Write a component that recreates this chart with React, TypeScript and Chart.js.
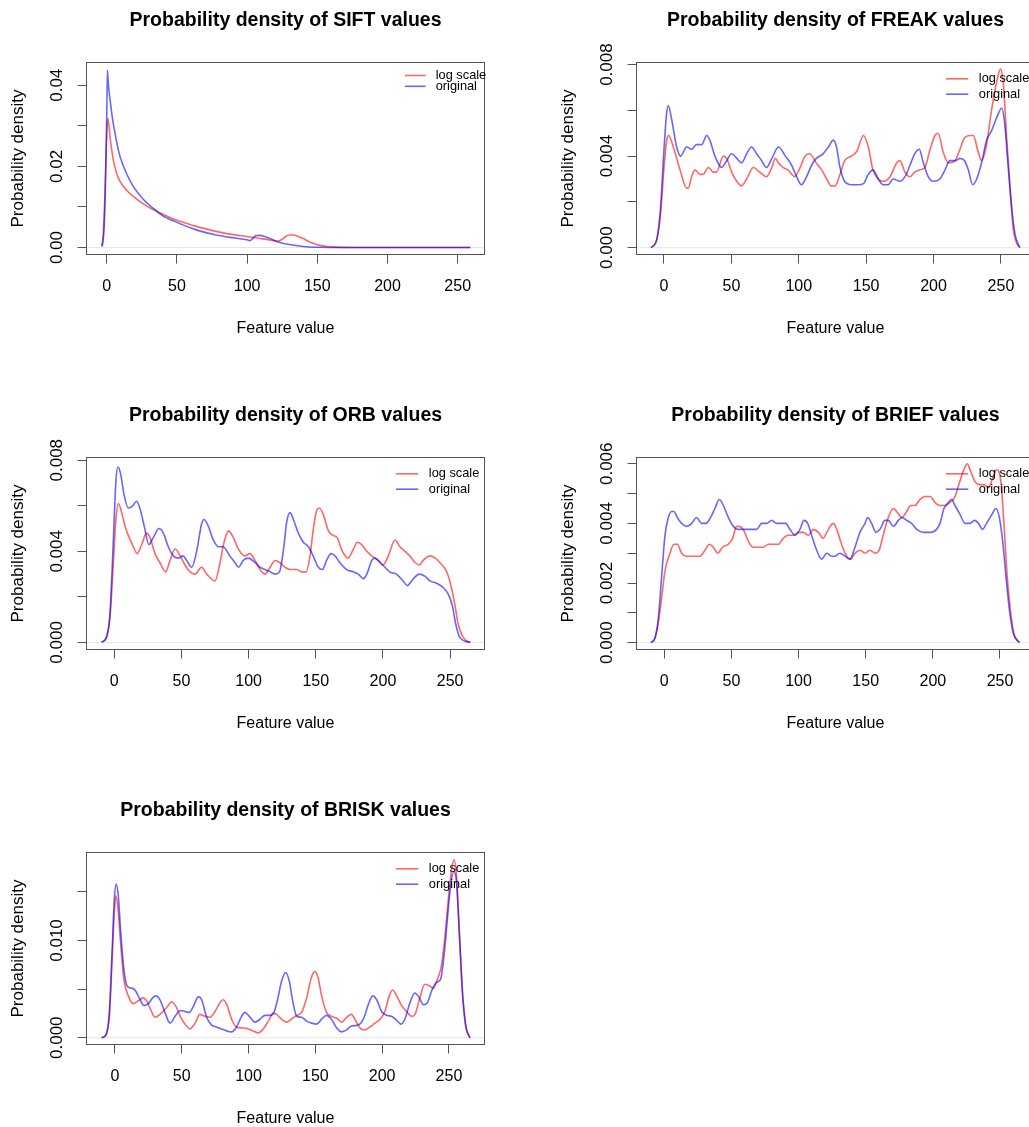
import React, { useEffect, useRef } from "react";
import { Chart, registerables } from "chart.js";

Chart.register(...registerables);

const FONT = "'Liberation Sans', Arial, Helvetica, sans-serif";
Chart.defaults.font.family = FONT;
Chart.defaults.color = "#000";

// ---------- shared axis data ----------
const xTicks = [0, 50, 100, 150, 200, 250];
const xTickLabels = ["0", "50", "100", "150", "200", "250"];
const seriesNames = ["log scale", "original"];

// ---------- SIFT ----------
const siftLogX = [-3.6, -2.5, -1.5, -0.5, 0.3, 0.8, 1.6, 2.8, 4.7, 7, 9.5, 14, 19, 25, 31, 40, 50, 62, 76, 88, 100, 108, 114, 119, 122, 124.5, 127, 130, 133, 136, 140, 145, 150, 156, 163, 175, 200, 230, 259];
const siftLogY = [0.0003, 0.003, 0.011, 0.022, 0.03, 0.0318, 0.03, 0.026, 0.0216, 0.0183, 0.0163, 0.0142, 0.0126, 0.011, 0.0097, 0.0082, 0.0067, 0.0054, 0.0041, 0.0033, 0.0027, 0.0023, 0.002, 0.0017, 0.0016, 0.0019, 0.0026, 0.0031, 0.0031, 0.0028, 0.0022, 0.0013, 0.0007, 0.0003, 0.0001, 0.00002, 0, 0, 0];
const siftOrigX = [-3.2, -2, -1, 0, 0.5, 1.2, 2.4, 4, 5.9, 8, 9.5, 14, 19, 26, 33, 40, 50, 60, 66, 78, 90, 100, 102, 104, 106, 109, 112, 115, 121, 126, 131, 142, 152, 165, 200, 259];
const siftOrigY = [0.0003, 0.004, 0.014, 0.032, 0.0437, 0.04, 0.0364, 0.032, 0.0282, 0.0245, 0.0224, 0.0183, 0.015, 0.0119, 0.0097, 0.0078, 0.0062, 0.0048, 0.0041, 0.0031, 0.0024, 0.0019, 0.0017, 0.0022, 0.0029, 0.003, 0.0028, 0.0024, 0.0015, 0.001, 0.0007, 0.0002, 0.00005, 0, 0, 0];
const siftYTicks = [0, 0.01, 0.02, 0.03, 0.04];
const siftYLabels = ["0.00", "", "0.02", "", "0.04"];

// ---------- FREAK ----------
const freakLogX = [-9.6, -5.4, -2.5, 0, 2, 3.5, 6.9, 11.9, 16.8, 18, 20.5, 23, 26.7, 29, 33, 36.6, 39, 44, 46.5, 50.2, 54, 57.6, 61.3, 66.3, 71, 76, 80, 82.5, 85, 88.5, 92, 97, 101, 104.6, 108, 113, 117, 120.7, 124, 127, 130.6, 134, 139, 143, 148, 151.6, 155, 159, 163, 167.7, 172.6, 175, 178.8, 182.5, 186, 190, 193.6, 197, 201, 203.5, 207, 211, 216, 219.6, 223, 227, 229.5, 233, 235.6, 239, 243, 247, 249.7, 252, 254, 256.7, 259, 261.6, 264];
const freakLogY = [0, 0.00035, 0.0015, 0.0035, 0.0047, 0.0049, 0.0044, 0.0034, 0.0026, 0.0026, 0.0031, 0.0034, 0.0032, 0.0032, 0.0035, 0.0033, 0.0033, 0.004, 0.0039, 0.0033, 0.0029, 0.0027, 0.003, 0.0035, 0.0033, 0.0031, 0.0035, 0.0039, 0.0037, 0.0035, 0.0034, 0.0031, 0.0035, 0.004, 0.0041, 0.0037, 0.0034, 0.003, 0.0027, 0.0027, 0.0032, 0.0038, 0.004, 0.0042, 0.0049, 0.0044, 0.0034, 0.003, 0.0029, 0.0031, 0.0037, 0.0038, 0.0033, 0.0031, 0.0033, 0.0034, 0.0035, 0.0042, 0.0049, 0.005, 0.0042, 0.0037, 0.0038, 0.0043, 0.0048, 0.0049, 0.0049, 0.0042, 0.0038, 0.0044, 0.006, 0.0073, 0.0078, 0.007, 0.005, 0.0027, 0.0009, 0.0002, 0];
const freakOrigX = [-9.6, -5.4, -2.5, 0, 2, 3.2, 5.7, 9.4, 12.4, 16.8, 20.5, 24, 28, 31.7, 34, 37.8, 42.8, 46.5, 50.2, 54, 57.6, 61.3, 65, 68.7, 72.5, 76, 80, 85, 90, 94.7, 98.4, 102, 105.8, 109.5, 113, 118, 122, 125.6, 128, 130.6, 134, 139, 144, 148, 151.6, 155, 159, 162.7, 166.4, 170, 175, 178.8, 182.5, 186, 189.4, 192, 196, 199.8, 204.7, 208.5, 212, 216, 219.6, 223, 225.8, 229, 232, 235.6, 239.4, 243, 247, 250.6, 253, 255.4, 257.9, 260.4, 264];
const freakOrigY = [0, 0.00035, 0.0018, 0.0043, 0.0059, 0.0062, 0.0056, 0.0044, 0.004, 0.0044, 0.0043, 0.0045, 0.0045, 0.0049, 0.0047, 0.004, 0.0035, 0.0038, 0.0041, 0.0039, 0.0037, 0.0041, 0.0044, 0.0041, 0.0038, 0.0035, 0.0039, 0.0044, 0.004, 0.0036, 0.0031, 0.00275, 0.0031, 0.0036, 0.0039, 0.0041, 0.0044, 0.0047, 0.0044, 0.0035, 0.0029, 0.00275, 0.00275, 0.0028, 0.0032, 0.0034, 0.003, 0.00275, 0.00275, 0.003, 0.0029, 0.0031, 0.0036, 0.0041, 0.0043, 0.0038, 0.0031, 0.0029, 0.003, 0.0034, 0.0038, 0.0038, 0.0039, 0.0038, 0.0034, 0.00275, 0.003, 0.0037, 0.0047, 0.0051, 0.0057, 0.0061, 0.0053, 0.0035, 0.0018, 0.0006, 0];
const freakYTicks = [0, 0.002, 0.004, 0.006, 0.008];
const freakYLabels = ["0.000", "", "0.004", "", "0.008"];

// ---------- ORB ----------
const orbLogX = [-9.4, -5.7, -3.2, -0.7, 1.2, 3, 5.5, 8, 10.4, 14.2, 17, 20.4, 24, 26.6, 30.3, 34, 38.2, 41.5, 45.2, 49, 52.6, 56.4, 60, 65, 68.8, 75, 78.7, 81.7, 85, 88.6, 92.4, 97.3, 101, 104.8, 108.5, 112, 116, 119.7, 123.4, 127, 130.8, 135.8, 139.5, 142.8, 145.7, 148, 150.7, 152.7, 155.7, 159.4, 163, 166, 169, 174, 178, 181, 184, 188, 191.6, 196.6, 200, 204, 209, 212.6, 216.5, 220, 224, 227, 230, 235, 239, 242.5, 247.5, 251, 253.7, 256, 260, 265];
const orbLogY = [0, 0.00025, 0.0011, 0.0035, 0.0054, 0.0061, 0.0057, 0.0051, 0.0047, 0.0042, 0.0039, 0.0043, 0.0048, 0.0046, 0.0039, 0.0035, 0.0031, 0.0036, 0.0041, 0.0038, 0.0034, 0.0031, 0.003, 0.0033, 0.003, 0.0027, 0.0035, 0.0044, 0.0049, 0.0046, 0.0041, 0.0038, 0.0039, 0.0036, 0.0032, 0.003, 0.0033, 0.0036, 0.0035, 0.0033, 0.0032, 0.0032, 0.0031, 0.0031, 0.0038, 0.0049, 0.0058, 0.0059, 0.0056, 0.0049, 0.0047, 0.0046, 0.0041, 0.0037, 0.0041, 0.0044, 0.0043, 0.004, 0.0038, 0.0036, 0.0034, 0.0038, 0.0045, 0.0042, 0.004, 0.0038, 0.0035, 0.0034, 0.0036, 0.0038, 0.0037, 0.0035, 0.0031, 0.0024, 0.0016, 0.0008, 0.0002, 0];
const orbOrigX = [-9.4, -5.7, -3.2, -0.7, 1.2, 2.7, 4.7, 7.2, 10.4, 13.7, 16.6, 19, 22.3, 25.8, 29, 33.3, 36.5, 40.2, 44, 47.7, 51, 53.9, 57.6, 61.3, 65, 66.8, 70, 73.7, 77.5, 81, 86, 89.9, 92.4, 96, 99.8, 104.8, 108.5, 112, 116, 119.7, 123, 126, 128.4, 130.8, 133.3, 137, 140.8, 144.5, 148, 151.9, 155, 158, 161.4, 164.3, 168, 173, 178, 181.7, 185.5, 188, 191.7, 194, 198, 201.6, 205, 210, 215, 218, 222.7, 227, 231.4, 235, 240, 245, 248.8, 251.7, 254.2, 257.4, 265];
const orbOrigY = [0, 0.00025, 0.0013, 0.0045, 0.0071, 0.0077, 0.0074, 0.0065, 0.0059, 0.006, 0.0062, 0.0059, 0.0051, 0.0043, 0.0046, 0.005, 0.0048, 0.0042, 0.0038, 0.0037, 0.0038, 0.0036, 0.0033, 0.004, 0.0052, 0.0054, 0.0051, 0.0045, 0.0042, 0.0042, 0.0038, 0.0035, 0.0033, 0.0036, 0.0037, 0.0035, 0.0033, 0.0032, 0.0031, 0.003, 0.0031, 0.0041, 0.0053, 0.0057, 0.0054, 0.0048, 0.0044, 0.0042, 0.0038, 0.0033, 0.0032, 0.0036, 0.0039, 0.0038, 0.0035, 0.0032, 0.0031, 0.003, 0.0028, 0.003, 0.0036, 0.0037, 0.0035, 0.0033, 0.0031, 0.003, 0.0027, 0.0025, 0.0028, 0.003, 0.0029, 0.0027, 0.0026, 0.0024, 0.0021, 0.0016, 0.0008, 0.0002, 0];
const orbYTicks = [0, 0.002, 0.004, 0.006, 0.008];
const orbYLabels = ["0.000", "", "0.004", "", "0.008"];

// ---------- BRIEF ----------
const briefLogX = [-9.9, -7, -4.5, -2, 0.5, 4.2, 7.2, 9.7, 12.9, 16.6, 21.6, 26.6, 30.3, 33.5, 36.5, 39.7, 43.4, 47.7, 50.9, 53.9, 55.6, 58.8, 62.6, 66.3, 70, 73.7, 77.5, 81, 85, 88.6, 92.4, 96, 99.8, 103.5, 107.3, 111, 114.7, 118.4, 121, 123.4, 126, 128.4, 132, 135.8, 138.8, 142, 145.7, 149.5, 153.2, 157, 160, 163, 166.8, 170.6, 173, 177, 180.5, 183.5, 186.7, 190.4, 194, 198, 201.6, 205.3, 209, 212.8, 216.5, 220, 224, 225.7, 227.7, 231.4, 234.6, 238, 241.3, 244.5, 247.5, 249.5, 251.3, 253.2, 255.4, 258, 260.4, 264.4];
const briefLogY = [0, 0.00015, 0.00065, 0.0015, 0.0024, 0.003, 0.0033, 0.0033, 0.003, 0.0029, 0.0029, 0.0029, 0.0031, 0.0033, 0.0032, 0.003, 0.0032, 0.0033, 0.0035, 0.0039, 0.0039, 0.0038, 0.0034, 0.0032, 0.0032, 0.0032, 0.0033, 0.0033, 0.0033, 0.0035, 0.0036, 0.0036, 0.0037, 0.0037, 0.0036, 0.0038, 0.0037, 0.0035, 0.0037, 0.0039, 0.004, 0.0038, 0.0033, 0.0029, 0.0028, 0.003, 0.0031, 0.003, 0.0031, 0.003, 0.0031, 0.0036, 0.0042, 0.0045, 0.0044, 0.0042, 0.0044, 0.0046, 0.0046, 0.0048, 0.0049, 0.0049, 0.0047, 0.0046, 0.0046, 0.0047, 0.0049, 0.0054, 0.0059, 0.006, 0.0058, 0.0054, 0.0053, 0.0053, 0.0052, 0.0055, 0.0058, 0.0057, 0.0051, 0.0038, 0.0022, 0.001, 0.0003, 0];
const briefOrigX = [-9.9, -7, -4.5, -2, 0.5, 3, 5.5, 7.2, 9.7, 12.9, 16.6, 20.4, 24, 27.8, 31, 34.5, 37.7, 41, 44, 47.7, 51.4, 55, 60, 65, 68.8, 72.5, 76.2, 80, 83.7, 87.4, 90.4, 93.6, 97.3, 101, 104, 106.8, 109.7, 113.5, 117.2, 121, 124.6, 127, 130.8, 134.6, 138.3, 142, 145.7, 149.5, 151.4, 154.4, 157.6, 160.6, 164.4, 166.8, 170.6, 174.3, 176.8, 180.5, 184.2, 188, 193, 197.9, 202.8, 205.3, 208.3, 211.5, 214, 216.5, 220.2, 224, 227.7, 231, 234, 237, 240, 244, 247, 249.5, 252, 254.5, 257, 260, 264.4];
const briefOrigY = [0, 0.00015, 0.0008, 0.0022, 0.0036, 0.0042, 0.0044, 0.0044, 0.0042, 0.004, 0.0039, 0.004, 0.0042, 0.004, 0.004, 0.0042, 0.0045, 0.0048, 0.0046, 0.0042, 0.0039, 0.0038, 0.0038, 0.0038, 0.0038, 0.004, 0.004, 0.0041, 0.004, 0.004, 0.004, 0.0038, 0.0036, 0.0038, 0.0041, 0.004, 0.0036, 0.0031, 0.0028, 0.003, 0.0029, 0.0029, 0.003, 0.0029, 0.0028, 0.0032, 0.0037, 0.004, 0.0042, 0.004, 0.0037, 0.0038, 0.0041, 0.0041, 0.0039, 0.0041, 0.0042, 0.0041, 0.004, 0.0038, 0.0037, 0.0037, 0.0038, 0.004, 0.0045, 0.0047, 0.0048, 0.0046, 0.0043, 0.004, 0.004, 0.0041, 0.004, 0.0038, 0.004, 0.0043, 0.0045, 0.0042, 0.0034, 0.0022, 0.0011, 0.0003, 0];
const briefYTicks = [0, 0.001, 0.002, 0.003, 0.004, 0.005, 0.006];
const briefYLabels = ["0.000", "", "0.002", "", "0.004", "", "0.006"];

// ---------- BRISK ----------
const briskLogX = [-10, -6.7, -4.2, -2, -0.5, 0.7, 2.2, 4.2, 6.7, 10, 13.7, 17.5, 21.2, 23.7, 26.7, 30, 33.7, 38.7, 42.4, 45.7, 49.9, 53.6, 56.1, 60, 63.6, 67.4, 71.1, 74.9, 78.6, 81, 84, 87.3, 91, 96, 99.8, 103.5, 107.3, 111, 114.8, 118.5, 121, 124.7, 128.5, 132, 136, 139.7, 143.5, 147, 149.7, 152, 154.7, 158.4, 162, 166, 169.7, 173.4, 177, 179.6, 183.4, 187, 190.9, 194.6, 198.4, 202, 205.3, 207.8, 210.8, 214.6, 218.3, 222, 224.6, 227.8, 232, 235.8, 238.3, 241.3, 244.5, 247, 249.5, 252, 253.7, 255.7, 257.7, 260.2, 262.7, 265.7];
const briskLogY = [0, 0.0003, 0.0022, 0.0084, 0.0128, 0.0146, 0.0134, 0.0098, 0.006, 0.0043, 0.0035, 0.0038, 0.0041, 0.0038, 0.0029, 0.0021, 0.0024, 0.0031, 0.0037, 0.0032, 0.0019, 0.0012, 0.0009, 0.0015, 0.0024, 0.0022, 0.0021, 0.0027, 0.0036, 0.0039, 0.0033, 0.0019, 0.0011, 0.001, 0.0009, 0.0007, 0.0005, 0.0009, 0.0017, 0.0025, 0.0024, 0.0019, 0.0016, 0.0019, 0.0023, 0.0026, 0.0041, 0.0062, 0.0068, 0.0062, 0.0043, 0.0026, 0.0022, 0.002, 0.0016, 0.0021, 0.0024, 0.0019, 0.001, 0.0008, 0.0011, 0.0015, 0.0019, 0.0027, 0.0043, 0.0049, 0.0043, 0.0033, 0.0027, 0.0022, 0.0024, 0.0039, 0.0055, 0.0053, 0.0051, 0.006, 0.0075, 0.0104, 0.0142, 0.0173, 0.0183, 0.0166, 0.0108, 0.0043, 0.001, 0];
const briskOrigX = [-10, -6.7, -4.2, -2, -0.5, 1, 2.5, 4.2, 6.7, 9.2, 12.5, 15, 18.2, 21.7, 25, 28.2, 30.7, 33.7, 37.4, 41.2, 45, 48.7, 52.4, 55.6, 58.6, 62.4, 64.9, 68.6, 72.4, 76.1, 79.8, 83.6, 87.3, 91, 94.8, 97.3, 100.5, 104.8, 108.5, 112.3, 116, 119, 121.5, 124.7, 127.7, 130.5, 133, 136, 139.7, 143.5, 147.2, 151, 154.7, 158.4, 162, 166, 169.7, 173.4, 177, 182, 185.9, 189.6, 192.9, 195.9, 199.6, 203.3, 207, 210.8, 214, 217, 220.8, 224.6, 227.8, 230.8, 233.8, 237, 240.7, 243.7, 246.5, 249, 251.2, 253.7, 255.7, 257.7, 260.2, 262.7, 265.7];
const briskOrigY = [0, 0.0003, 0.0026, 0.0094, 0.0142, 0.0158, 0.0146, 0.0111, 0.007, 0.0053, 0.0051, 0.0049, 0.0041, 0.0033, 0.0035, 0.0041, 0.0043, 0.0039, 0.0026, 0.0015, 0.0022, 0.0028, 0.0027, 0.0026, 0.0032, 0.0042, 0.0039, 0.0021, 0.0013, 0.0011, 0.0009, 0.0007, 0.0006, 0.0011, 0.0022, 0.0026, 0.0022, 0.0016, 0.0019, 0.0023, 0.0023, 0.0026, 0.0038, 0.0058, 0.0067, 0.0058, 0.0038, 0.0022, 0.0021, 0.0017, 0.0015, 0.0014, 0.0019, 0.0023, 0.0019, 0.001, 0.0006, 0.0008, 0.0012, 0.0013, 0.0019, 0.0034, 0.0043, 0.0039, 0.0027, 0.0023, 0.0022, 0.0018, 0.0014, 0.0019, 0.0036, 0.0046, 0.0041, 0.0034, 0.0036, 0.0048, 0.0057, 0.006, 0.0087, 0.0125, 0.0156, 0.0171, 0.0159, 0.0111, 0.0046, 0.0012, 0];
const briskYTicks = [0, 0.005, 0.01, 0.015];
const briskYLabels = ["0.000", "", "0.010", ""];

// ---------- layout constants ----------
const CANVAS_W = 551;
const CANVAS_H = 395;
const BOX_LEFT = 86.5;
const BOX_RIGHT = 484.5;
const BOX_TOP = 62.5;
const BOX_BOTTOM = 254.5;
const TICK_LEN = 9;
const RED = "rgba(255,0,0,0.6)";
const BLUE = "rgba(0,0,255,0.6)";
const AXIS_COLOR = "#555";

type LegendLayout = { lineStart: number; lineEnd: number; textX: number; rows: number[] };
type PanelSpec = {
  title: string;
  left: number;
  top: number;
  xMin: number;
  xMax: number;
  yMin: number;
  yMax: number;
  yTicks: number[];
  yLabels: string[];
  logX: number[];
  logY: number[];
  origX: number[];
  origY: number[];
  legend: LegendLayout;
};

const legendWide: LegendLayout = { lineStart: 309.5, lineEnd: 331.8, textX: 342.3, rows: [16.3, 31.7] };
const legendSift: LegendLayout = { lineStart: 318.5, lineEnd: 339.2, textX: 349.2, rows: [13, 23.8] };

const panels: PanelSpec[] = [
  { title: "Probability density of SIFT values", left: 0, top: 0, xMin: -14.4, xMax: 269.1, yMin: -0.00172, yMax: 0.0456, yTicks: siftYTicks, yLabels: siftYLabels, logX: siftLogX, logY: siftLogY, origX: siftOrigX, origY: siftOrigY, legend: legendSift },
  { title: "Probability density of FREAK values", left: 550, top: 0, xMin: -20.4, xMax: 274.9, yMin: -0.0003, yMax: 0.00809, yTicks: freakYTicks, yLabels: freakYLabels, logX: freakLogX, logY: freakLogY, origX: freakOrigX, origY: freakOrigY, legend: legendWide },
  { title: "Probability density of ORB values", left: 0, top: 395, xMin: -20.7, xMax: 275.6, yMin: -0.00031, yMax: 0.00812, yTicks: orbYTicks, yLabels: orbYLabels, logX: orbLogX, logY: orbLogY, origX: orbOrigX, origY: orbOrigY, legend: legendWide },
  { title: "Probability density of BRIEF values", left: 550, top: 395, xMin: -20.7, xMax: 275.7, yMin: -0.00023, yMax: 0.00621, yTicks: briefYTicks, yLabels: briefYLabels, logX: briefLogX, logY: briefLogY, origX: briefOrigX, origY: briefOrigY, legend: legendWide },
  { title: "Probability density of BRISK values", left: 0, top: 790, xMin: -21.3, xMax: 276.6, yMin: -0.0007, yMax: 0.01905, yTicks: briskYTicks, yLabels: briskYLabels, logX: briskLogX, logY: briskLogY, origX: briskOrigX, origY: briskOrigY, legend: legendWide },
];

function measure(text: string, size: number): number {
  const c = document.createElement("canvas").getContext("2d");
  if (!c) return text.length * size * 0.55;
  c.font = `${size}px ${FONT}`;
  return c.measureText(text).width;
}

const boxPlugin = {
  id: "rBox",
  afterDatasetsDraw(chart: any) {
    const { ctx, chartArea: a } = chart;
    ctx.save();
    ctx.strokeStyle = AXIS_COLOR;
    ctx.lineWidth = 1;
    ctx.strokeRect(a.left, a.top, a.right - a.left, a.bottom - a.top);
    ctx.restore();
  },
};

const legendPlugin = {
  id: "rLegend",
  afterDatasetsDraw(chart: any, _args: any, opts: any) {
    const { ctx, chartArea: a } = chart;
    const L: LegendLayout = opts.layout;
    const colors = [RED, BLUE];
    ctx.save();
    ctx.font = `12.8px ${FONT}`;
    ctx.textBaseline = "middle";
    ctx.textAlign = "left";
    seriesNames.forEach((name, i) => {
      const y = a.top + L.rows[i];
      ctx.strokeStyle = colors[i];
      ctx.lineWidth = 1.6;
      ctx.beginPath();
      ctx.moveTo(a.left + L.lineStart, y);
      ctx.lineTo(a.left + L.lineEnd, y);
      ctx.stroke();
      ctx.fillStyle = "#000";
      ctx.fillText(name, a.left + L.textX, y);
    });
    ctx.restore();
  },
};

function makeConfig(p: PanelSpec): any {
  const widest = Math.max(...p.yLabels.map((s) => measure(s, 17)));
  const yPad = 29.5 - TICK_LEN - widest / 2;
  const toPts = (xs: number[], ys: number[]) => xs.map((x, i) => ({ x, y: ys[i] }));
  const gridOpts = { drawOnChartArea: false, drawTicks: true, tickLength: TICK_LEN, color: AXIS_COLOR, tickColor: AXIS_COLOR, lineWidth: 1 };
  const titleSize = 19.5;
  return {
    type: "line",
    data: {
      datasets: [
        { label: seriesNames[1], data: toPts(p.origX, p.origY), borderColor: BLUE, borderWidth: 1.6, pointRadius: 0, fill: false, cubicInterpolationMode: "monotone" },
        { label: seriesNames[0], data: toPts(p.logX, p.logY), borderColor: RED, borderWidth: 1.6, pointRadius: 0, fill: false, cubicInterpolationMode: "monotone" },
        { label: "zero", data: [{ x: p.xMin, y: 0 }, { x: p.xMax, y: 0 }], borderColor: "#e6e6e6", borderWidth: 1, pointRadius: 0, fill: false },
      ],
    },
    options: {
      responsive: false,
      animation: false,
      devicePixelRatio: 1,
      events: [],
      layout: { padding: { left: 0, top: 0, right: CANVAS_W - BOX_RIGHT, bottom: 0 } },
      plugins: {
        legend: { display: false },
        tooltip: { enabled: false },
        title: {
          display: true,
          text: p.title,
          fullSize: false,
          color: "#000",
          font: { size: titleSize, weight: "bold", family: FONT, lineHeight: 1.2 },
          padding: { top: 8.6, bottom: BOX_TOP - 8.6 - titleSize * 1.2 },
        },
        rLegend: { layout: p.legend },
      },
      scales: {
        x: {
          type: "linear",
          min: p.xMin,
          max: p.xMax,
          afterBuildTicks: (s: any) => {
            s.ticks = xTicks.map((v) => ({ value: v }));
          },
          afterFit: (s: any) => {
            s.height = CANVAS_H - BOX_BOTTOM;
          },
          ticks: {
            autoSkip: false,
            minRotation: 0,
            maxRotation: 0,
            padding: 13.4,
            color: "#000",
            font: { size: 16 },
            callback: (_v: any, i: number) => xTickLabels[i],
          },
          grid: gridOpts,
          border: { display: true, color: AXIS_COLOR, width: 1 },
          title: { display: true, text: "Feature value", color: "#000", font: { size: 16 }, padding: { top: 0, bottom: 57.1 } },
        },
        y: {
          type: "linear",
          min: p.yMin,
          max: p.yMax,
          afterBuildTicks: (s: any) => {
            s.ticks = p.yTicks.map((v) => ({ value: v }));
          },
          afterFit: (s: any) => {
            s.width = BOX_LEFT;
          },
          ticks: {
            autoSkip: false,
            minRotation: 90,
            maxRotation: 90,
            crossAlign: "center",
            padding: yPad,
            color: "#000",
            font: { size: 17 },
            callback: (_v: any, i: number) => p.yLabels[i],
          },
          grid: gridOpts,
          border: { display: true, color: AXIS_COLOR, width: 1 },
          title: { display: true, text: "Probability density", color: "#000", font: { size: 17 }, padding: { top: 8.1, bottom: 0 } },
        },
      },
    },
    plugins: [boxPlugin, legendPlugin],
  };
}

function Panel({ spec }: { spec: PanelSpec }) {
  const ref = useRef<HTMLCanvasElement>(null);
  useEffect(() => {
    if (!ref.current) return;
    const chart = new Chart(ref.current, makeConfig(spec));
    return () => chart.destroy();
  }, [spec]);
  return (
    <canvas
      ref={ref}
      width={CANVAS_W}
      height={CANVAS_H}
      style={{ position: "absolute", left: spec.left, top: spec.top, width: CANVAS_W, height: CANVAS_H }}
    />
  );
}

export default function App() {
  return (
    <div style={{ position: "absolute", left: 0, top: 0, width: 1029, height: 1127, overflow: "hidden", background: "#fff" }}>
      {panels.map((p) => (
        <Panel key={p.title} spec={p} />
      ))}
    </div>
  );
}
